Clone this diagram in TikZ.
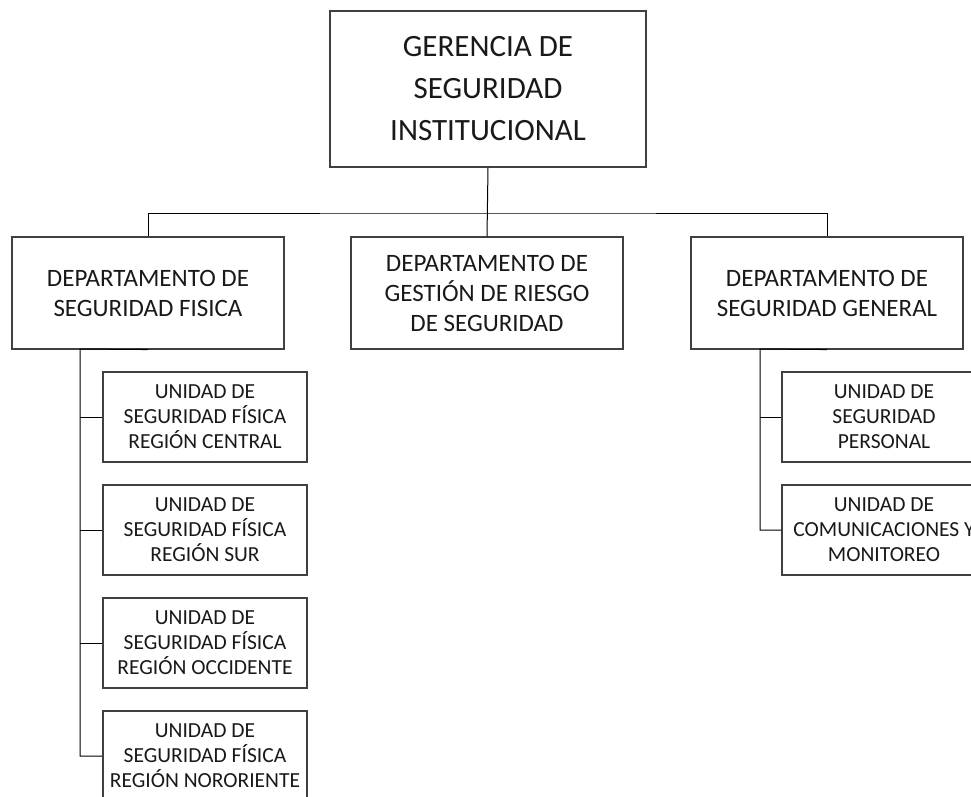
\documentclass[tikz,border=0pt]{standalone}
\usepackage{fontspec}
\setmainfont{Carlito}
\begin{document}
\begin{tikzpicture}[x=1pt,y=-1pt,
  box/.style={draw=black!75,line width=1.1pt,rectangle,inner sep=0pt,align=center,text=black!90},
  topbox/.style={box,minimum width=316pt,minimum height=156pt,font=\fontsize{31}{42}\selectfont},
  deptbox/.style={box,minimum width=272pt,minimum height=112pt,font=\fontsize{25}{30}\selectfont},
  unitbox/.style={box,minimum width=204pt,minimum height=90pt,font=\fontsize{21.5}{25}\selectfont},
  conn/.style={draw=black,line width=1pt}]
\useasboundingbox (0,0) rectangle (971,797);
\clip (0,0) rectangle (971,797);
\node[topbox] (top) at (488,89) {GERENCIA DE\\SEGURIDAD\\INSTITUCIONAL};
\node[deptbox] (dL) at (148,293) {DEPARTAMENTO DE\\SEGURIDAD FISICA};
\node[deptbox] (dM) at (487,293) {DEPARTAMENTO DE\\GESTIÓN DE RIESGO\\DE SEGURIDAD};
\node[deptbox] (dR) at (827,293) {DEPARTAMENTO DE\\SEGURIDAD GENERAL};
\node[unitbox] (uL1) at (205,417) {UNIDAD DE\\SEGURIDAD FÍSICA\\REGIÓN CENTRAL};
\node[unitbox] (uL2) at (205,530) {UNIDAD DE\\SEGURIDAD FÍSICA\\REGIÓN SUR};
\node[unitbox] (uL3) at (205,643) {UNIDAD DE\\SEGURIDAD FÍSICA\\REGIÓN OCCIDENTE};
\node[unitbox] (uL4) at (205,756) {UNIDAD DE\\SEGURIDAD FÍSICA\\REGIÓN NORORIENTE};
\node[unitbox] (uR1) at (884,417) {UNIDAD DE\\SEGURIDAD\\PERSONAL};
\node[unitbox] (uR2) at (884,530) {UNIDAD DE\\COMUNICACIONES Y\\MONITOREO};
\coordinate (bus) at (488,213);
\coordinate (ls) at (80,349);
\coordinate (rs) at (760,349);
\draw[conn] (top.south) -- (dM.north);
\draw[conn] (dL.north) |- (bus) -| (dR.north);
\draw[conn] (dL.south) -- (ls) |- (uL4.west);
\draw[conn] (ls |- uL1.west) -- (uL1.west);
\draw[conn] (ls |- uL2.west) -- (uL2.west);
\draw[conn] (ls |- uL3.west) -- (uL3.west);
\draw[conn] (dR.south) -- (rs) |- (uR2.west);
\draw[conn] (rs |- uR1.west) -- (uR1.west);
\end{tikzpicture}
\end{document}
